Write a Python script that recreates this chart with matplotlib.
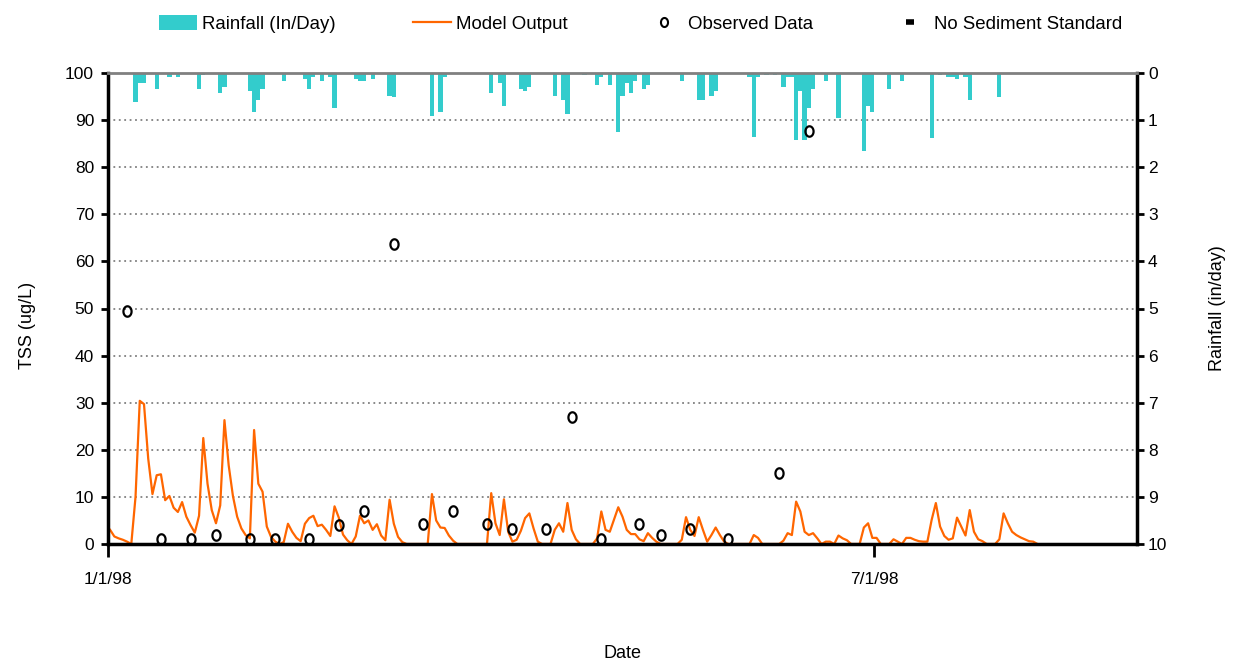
import numpy as np
import pandas as pd
import matplotlib
matplotlib.use("Agg")
import matplotlib.pyplot as plt
from matplotlib.path import Path
from matplotlib.lines import Line2D
from matplotlib.patches import Patch

start = pd.Timestamp("1998-01-01")
end = pd.Timestamp("1998-09-01")

# daily model TSS (ug/L), one value per day starting 1/1/98
model_tss = [
    3.0, 1.6, 1.2, 0.9, 0.5, 0.0, 10.0, 30.4, 29.7, 18.1,
    10.6, 14.6, 14.8, 9.3, 10.2, 7.7, 6.8, 8.9, 5.8, 4.0,
    2.4, 6.0, 22.5, 12.8, 7.2, 4.4, 8.2, 26.3, 16.7, 10.2,
    5.8, 3.3, 1.9, 1.2, 24.2, 12.8, 11.1, 3.7, 1.5, 0.5,
    0.0, 0.4, 4.3, 2.6, 1.3, 0.6, 4.3, 5.5, 6.0, 3.8,
    4.1, 3.0, 1.7, 8.0, 5.6, 2.0, 0.8, 0.0, 1.6, 6.0,
    4.4, 5.0, 3.0, 4.2, 1.8, 0.8, 9.4, 4.3, 1.5, 0.4,
    0, 0, 0, 0, 0, 0, 10.6, 5.0, 3.5, 3.4,
    1.8, 0.7, 0, 0, 0, 0, 0, 0, 0, 0,
    10.8, 4.4, 1.9, 9.5, 2.6, 0.5, 0.9, 2.8, 5.5, 6.5,
    3.3, 0.5, 0, 0, 0, 3.0, 4.4, 2.6, 8.7, 3.0,
    1.0, 0, 0, 0, 0, 1.2, 6.9, 3.0, 2.6, 5.2,
    7.8, 5.8, 3.0, 2.1, 2.1, 1.0, 0.6, 2.3, 1.3, 0.5,
    0, 0, 0, 0, 0, 0.9, 5.7, 3.0, 1.7, 5.7,
    3.0, 0.5, 1.9, 3.5, 1.9, 0.5, 0, 0, 0, 0,
    0, 0, 1.9, 1.3, 0, 0, 0, 0, 0, 0.7,
    2.3, 1.9, 9.0, 6.9, 2.6, 1.9, 2.3, 1.2, 0, 0.5,
    0.5, 0, 1.8, 1.2, 0.8, 0, 0, 0, 3.5, 4.4,
    1.3, 1.3, 0, 0, 0, 1.0, 0.5, 0, 1.3, 1.3,
    0.9, 0.6, 0.5, 0.5, 5.1, 8.7, 3.7, 1.7, 0.9, 1.2,
    5.6, 3.7, 1.8, 7.2, 2.6, 1.0, 0.6, 0, 0, 0,
    1.0, 6.5, 4.4, 2.6, 1.9, 1.4, 1.0, 0.6, 0.5, 0,
]

# observed samples (days after 1/1/98, TSS ug/L)
obs_day = [4, 12, 19, 25, 33, 39, 47, 54, 60, 67, 74, 81,
           89, 95, 103, 109, 116, 125, 130, 137, 146, 158, 165]
obs_tss = [49.5, 1.0, 1.0, 1.9, 1.0, 1.0, 1.0, 4.0, 7.0, 63.7, 4.2, 7.1,
           4.2, 3.2, 3.2, 27.0, 1.0, 4.2, 1.9, 3.2, 1.0, 15.1, 87.6]

# daily rainfall (days after 1/1/98, inches)
rain_day = [6, 7, 8, 11, 12, 14, 16, 21, 22, 26, 27, 33, 34, 35, 36, 41,
            46, 47, 48, 50, 52, 53, 58, 59, 60, 61, 62, 66, 67, 75, 76, 78,
            79, 90, 92, 93, 97, 98, 99, 103, 105, 107, 108, 112, 115, 116,
            118, 120, 121, 122, 123, 124, 126, 127, 130, 135, 139, 140, 142,
            143, 146, 151, 152, 153, 154, 155, 157, 159, 160, 161, 162, 163,
            164, 165, 166, 169, 172, 178, 179, 180, 184, 187, 188, 194, 196,
            198, 199, 200, 202, 203, 210]
rain_in = [0.61, 0.22, 0.22, 0.35, 0.02, 0.09, 0.09, 0.35, 0.04, 0.43, 0.30,
           0.39, 0.83, 0.57, 0.35, 0.17, 0.13, 0.35, 0.09, 0.17, 0.09, 0.74,
           0.13, 0.17, 0.17, 0.02, 0.13, 0.48, 0.52, 0.01, 0.91, 0.83, 0.09,
           0.43, 0.22, 0.70, 0.35, 0.39, 0.30, 0.01, 0.48, 0.57, 0.87, 0.04,
           0.26, 0.09, 0.26, 1.26, 0.48, 0.22, 0.43, 0.17, 0.35, 0.26, 0.01,
           0.17, 0.57, 0.57, 0.48, 0.39, 0.01, 0.09, 1.35, 0.09, 0.02, 0.04,
           0.04, 0.30, 0.09, 0.09, 1.43, 0.39, 1.43, 0.74, 0.35, 0.17, 0.96,
           1.65, 0.70, 0.83, 0.35, 0.17, 0.01, 1.39, 0.04, 0.09, 0.09, 0.13,
           0.09, 0.57, 0.52]

tick_dates = ["1998-01-01", "1998-07-01"]
tick_labels = ["1/1/98", "7/1/98"]

RAIN = "#33CCCC"
MODEL = "#FF6600"
plt.rcParams["font.family"] = ["Liberation Sans", "DejaVu Sans"]


def day_center(days):
    # each daily value sits in the middle of its day
    return start + pd.to_timedelta(np.asarray(days, dtype=float) + 0.5, unit="D")


# slightly tall open "o" marker
t = np.linspace(0, 2 * np.pi, 60)
oval = Path(np.column_stack([0.78 * np.cos(t), np.sin(t)]), closed=True)

fig = plt.figure(figsize=(12.35, 6.65), dpi=100)
ax = fig.add_axes([108 / 1235, 1 - 544 / 665, 1029 / 1235, 471 / 665])
ax2 = ax.twinx()
ax.set_zorder(ax2.get_zorder() + 1)
ax.patch.set_visible(False)

# rainfall hangs from the top on the inverted right axis
ax2.bar(day_center(rain_day), rain_in, width=1.0, color=RAIN, linewidth=0)
ax2.set_ylim(10, 0)
ax2.set_yticks(range(0, 11))
ax2.set_axisbelow(True)
ax2.yaxis.grid(True, linestyle=(0, (1, 2)), color="#808080", linewidth=1.3)
for s in ax2.spines.values():
    s.set_visible(False)
ax2.tick_params(axis="y", direction="out", length=5, width=2, pad=3, labelsize=12.5)

ax.plot(day_center(range(len(model_tss))), model_tss, color=MODEL, linewidth=1.6)
ax.plot(day_center(obs_day), obs_tss, linestyle="none", marker=oval, markersize=7.5,
        markerfacecolor="none", markeredgecolor="black", markeredgewidth=1.6)

ax.set_xlim(start, end)
ax.set_ylim(0, 100)
ax.set_yticks(range(0, 101, 10))
ax.set_xticks(pd.to_datetime(tick_dates))
ax.set_xticklabels(tick_labels)
ax.tick_params(axis="y", direction="out", length=5, width=2, pad=5, labelsize=12.5)
ax.tick_params(axis="x", direction="out", length=9, width=2, pad=11, labelsize=12.5)

for side in ["left", "right", "bottom"]:
    ax.spines[side].set_color("black")
    ax.spines[side].set_linewidth(2.5)
ax.spines["top"].set_color("#808080")
ax.spines["top"].set_linewidth(2)

ax.set_ylabel("TSS (ug/L)", fontsize=13)
ax.yaxis.set_label_coords(-0.070, 0.465)
ax2.set_ylabel("Rainfall (in/day)", fontsize=13, labelpad=30)
ax.set_xlabel("Date", fontsize=13, labelpad=42)

handles = [
    Patch(facecolor=RAIN, label="Rainfall (In/Day)"),
    Line2D([], [], color=MODEL, linewidth=1.6, label="Model Output"),
    Line2D([], [], linestyle="none", marker=oval, markersize=6.5, markerfacecolor="none",
           markeredgecolor="black", markeredgewidth=1.5, label="Observed Data"),
    Line2D([], [], linestyle="none", marker="_", markersize=6, markeredgewidth=4,
           color="black", label="No Sediment Standard"),
]
fig.legend(handles=handles, loc="upper left", bbox_to_anchor=(159 / 1235, 1 - 15 / 665),
           ncol=4, frameon=False, fontsize=13.4, handlelength=2.05, handleheight=0.9,
           handletextpad=0.27, columnspacing=4.15, borderpad=0, borderaxespad=0)

fig.savefig("out.png", dpi=100)
